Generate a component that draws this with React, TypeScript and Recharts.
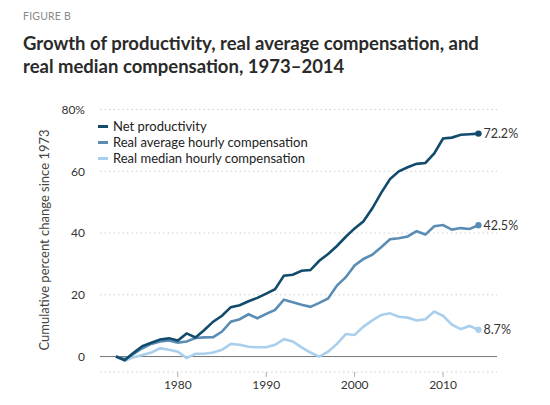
import React from 'react'
import { LineChart, Line, XAxis, YAxis, CartesianGrid, ReferenceLine } from 'recharts'

const years = [
  1973, 1974, 1975, 1976, 1977, 1978, 1979, 1980, 1981, 1982, 1983, 1984, 1985, 1986,
  1987, 1988, 1989, 1990, 1991, 1992, 1993, 1994, 1995, 1996, 1997, 1998, 1999, 2000,
  2001, 2002, 2003, 2004, 2005, 2006, 2007, 2008, 2009, 2010, 2011, 2012, 2013, 2014,
]
const productivity = [
  0, -1.2, 1.2, 3.4, 4.5, 5.5, 5.9, 5.2, 7.5, 6.2, 8.6, 11.3, 13.2, 16,
  16.6, 17.9, 19, 20.4, 21.8, 26.2, 26.5, 27.8, 28, 31, 33.2, 35.8, 38.8, 41.5,
  43.8, 48, 53, 57.5, 60, 61.3, 62.4, 62.7, 65.8, 70.6, 70.9, 71.8, 72, 72.2,
]
const avgComp = [
  0, -0.8, 0.9, 2.7, 4.1, 4.9, 5.2, 4.5, 4.9, 6, 6.2, 6.3, 8.1, 11.3,
  12.1, 13.7, 12.4, 13.8, 15.1, 18.4, 17.6, 16.8, 16.1, 17.4, 18.8, 23, 25.7, 29.5,
  31.6, 33, 35.4, 38, 38.3, 38.9, 40.6, 39.5, 42.2, 42.6, 41.1, 41.6, 41.3, 42.5,
]
const medianComp = [
  0, -1.3, -0.2, 0.5, 1.3, 2.7, 2.2, 1.6, -0.5, 0.9, 0.9, 1.3, 2.2, 4.1,
  3.8, 3.2, 3, 3, 3.8, 5.6, 4.9, 3, 1.3, 0, 1.6, 4.1, 7.3, 7,
  9.7, 11.7, 13.5, 14, 12.9, 12.6, 11.7, 12.1, 14.6, 13.2, 10.3, 8.9, 9.9, 8.7,
]
const xTicks = [1980, 1990, 2000, 2010]
const yTicks = [0, 20, 40, 60, 80]

const seriesInfo = [
  { key: 'productivity', name: 'Net productivity', color: '#124b6b' },
  { key: 'avg', name: 'Real average hourly compensation', color: '#5b8db4' },
  { key: 'median', name: 'Real median hourly compensation', color: '#a9cfec' },
]

const data = years.map((year, i) => ({
  year,
  productivity: productivity[i],
  avg: avgComp[i],
  median: medianComp[i],
}))

const FONT = 'Lato, "Open Sans", sans-serif'
const last = years.length - 1

const endDot = (color: string) => (props: any) => {
  if (props.index !== last) return <g key={props.index} />
  return <circle key={props.index} cx={props.cx} cy={props.cy} r={3.2} fill={color} />
}

const endLabel = (props: any) => {
  if (props.index !== last) return null
  return (
    <text x={props.x + 5} y={props.y} dy="0.35em" fontSize={12.5} fill="#333" fontFamily={FONT}>
      {props.value}%
    </text>
  )
}

export default function App() {
  return (
    <div style={{ position: 'absolute', left: 0, top: 0, width: 550, height: 405, background: '#fff', fontFamily: FONT }}>
      <div style={{ position: 'absolute', left: 23, top: 10, fontSize: 10.5, color: '#8a8a8a', letterSpacing: 0.2 }}>
        FIGURE B
      </div>
      <div
        style={{
          position: 'absolute',
          left: 23,
          top: 32,
          width: 527,
          fontSize: 18.5,
          fontWeight: 700,
          lineHeight: '23px',
          color: '#2a2a2a',
        }}
      >
        Growth of productivity, real average compensation, and
        <br />
        real median compensation, 1973–2014
      </div>
      <div
        style={{
          position: 'absolute',
          left: 44,
          top: 240,
          transform: 'translate(-50%, -50%) rotate(-90deg)',
          whiteSpace: 'nowrap',
          fontSize: 13,
          color: '#444',
        }}
      >
        Cumulative percent change since 1973
      </div>
      <div style={{ position: 'absolute', left: 0, top: 0 }}>
        <LineChart width={550} height={405} data={data} margin={{ top: 109.5, right: 53, left: 60, bottom: 3 }}>
          <CartesianGrid vertical={false} stroke="#cfcfcf" strokeDasharray="1.5 3" />
          <XAxis
            dataKey="year"
            type="number"
            domain={[1971.2, 2016.1]}
            ticks={xTicks}
            axisLine={false}
            tickLine={{ stroke: '#aaa' }}
            tickSize={5}
            tickMargin={3}
            tick={{ fontSize: 12, fill: '#333', fontFamily: FONT }}
            height={30}
          />
          <YAxis
            domain={[-5, 80]}
            ticks={yTicks}
            axisLine={false}
            tickLine={false}
            tickSize={0}
            tickMargin={15}
            width={40}
            tickFormatter={(v: number) => (v === 80 ? '80%' : String(v))}
            tick={{ fontSize: 12, fill: '#333', fontFamily: FONT }}
          />
          <ReferenceLine y={0} stroke="#777" strokeWidth={1} />
          {seriesInfo
            .slice()
            .reverse()
            .map((s) => (
              <Line
                key={s.key}
                type="linear"
                dataKey={s.key}
                name={s.name}
                stroke={s.color}
                strokeWidth={2.6}
                dot={endDot(s.color)}
                activeDot={false}
                label={endLabel}
                isAnimationActive={false}
              />
            ))}
        </LineChart>
      </div>
      <div style={{ position: 'absolute', left: 98, top: 118, fontSize: 13, color: '#222' }}>
        {seriesInfo.map((s) => (
          <div key={s.key} style={{ display: 'flex', alignItems: 'center', height: 16 }}>
            <span style={{ width: 10, height: 3, background: s.color, marginRight: 5, display: 'inline-block' }} />
            {s.name}
          </div>
        ))}
      </div>
    </div>
  )
}
